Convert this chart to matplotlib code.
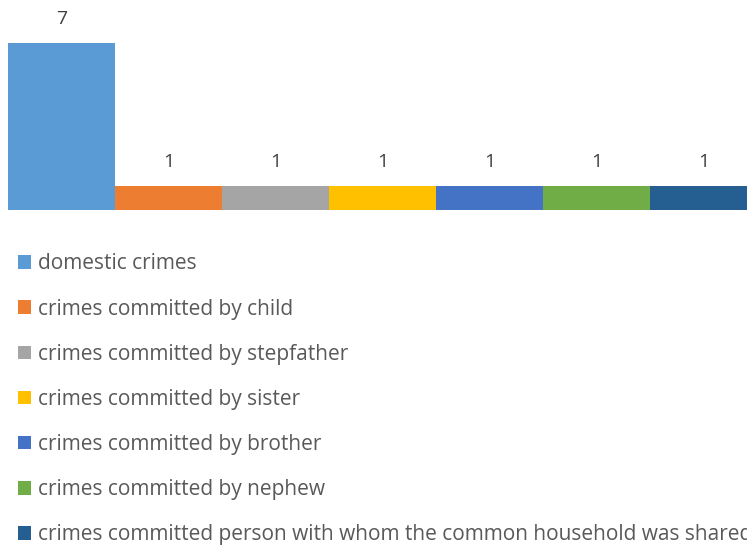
import numpy as np
import matplotlib.pyplot as plt
from matplotlib.patches import Patch

labels = ["domestic crimes",
          "crimes committed by child",
          "crimes committed by stepfather",
          "crimes committed by sister",
          "crimes committed by brother",
          "crimes committed by nephew",
          "crimes committed person with whom the common household was shared"]
values = [7, 1, 1, 1, 1, 1, 1]
colors = ["#5B9BD5", "#ED7D31", "#A5A5A5", "#FFC000", "#4472C4", "#70AD47", "#255E91"]

plt.rcParams['font.family'] = ['Open Sans', 'DejaVu Sans']

W, H = 747, 548
fig = plt.figure(figsize=(W/100, H/100), dpi=100)
# bar area: left 8px, bottom at 210px from top, bars 107px wide
ax = fig.add_axes([8/W, (H-210)/H, 749/W, 210/H])
x = np.arange(len(values))
bars = ax.bar(x, values, width=1.0, color=colors, align='edge')
ax.set_xlim(0, 7)
ax.set_ylim(0, 7*210/167)
for b, v in zip(bars, values):
    ax.text(b.get_x()+0.5, v + 0.63, str(v), ha='center', va='bottom',
            fontsize=14, color='#404040')
ax.axis('off')

handles = [Patch(facecolor=c, label=l) for c, l in zip(colors, labels)]
fig.legend(handles=handles, loc='upper left', bbox_to_anchor=(10/W, 1-245/H),
           frameon=False, fontsize=15, labelcolor='#595959',
           handlelength=0.62, handleheight=0.62, handletextpad=0.3,
           labelspacing=1.16, borderaxespad=0)

fig.savefig("out.png", dpi=100)
